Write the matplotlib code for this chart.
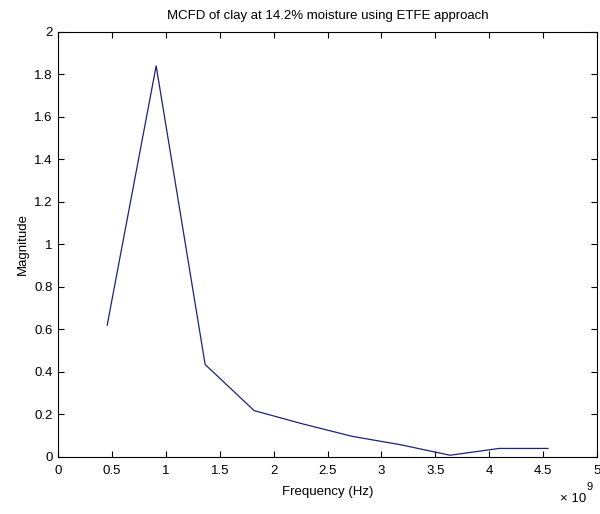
import numpy as np
import matplotlib.pyplot as plt
from matplotlib.ticker import FuncFormatter

plt.rcParams['font.family'] = ['Liberation Sans', 'DejaVu Sans']

# frequency points (Hz) and MCFD magnitude
freq = np.array([0.4545, 0.9091, 1.3636, 1.8182, 2.2727, 2.7273,
                 3.1818, 3.6364, 4.0909, 4.5455]) * 1e9
mag = [0.62, 1.84, 0.435, 0.218, 0.155, 0.097, 0.057, 0.008, 0.04, 0.04]

xticks = np.arange(0, 5.01, 0.5) * 1e9
yticks = np.arange(0, 2.01, 0.2)

fig = plt.figure(figsize=(6.0, 5.14), dpi=100)
ax = fig.add_axes([0.097, 0.111, 0.898, 0.827])

ax.plot(freq, mag, color='#20207a', lw=0.9)

ax.set_xlim(0, 5e9)
ax.set_ylim(0, 2)
ax.set_xticks(xticks)
ax.set_yticks(yticks)
ax.xaxis.set_major_formatter(FuncFormatter(lambda v, p: '%g' % (v / 1e9)))
ax.yaxis.set_major_formatter(FuncFormatter(lambda v, p: '%g' % round(v, 1)))
ax.tick_params(direction='in', top=True, right=True, length=4,
               labelsize=9.5, width=0.8)
ax.tick_params(axis='x', pad=6)
ax.tick_params(axis='y', pad=4)
for s in ax.spines.values():
    s.set_linewidth(0.8)

ax.set_title('MCFD of clay at 14.2% moisture using ETFE approach', fontsize=9.5, pad=9)
ax.set_xlabel('Frequency (Hz)', fontsize=9.5, labelpad=6)
ax.set_ylabel('Magnitude', fontsize=9.5, labelpad=4)
fig.text(0.955, 0.024, '\u00d7 10', fontsize=9.5, ha='center')
fig.text(0.983, 0.046, '9', fontsize=8, ha='center')

fig.savefig('out.png', dpi=100)
